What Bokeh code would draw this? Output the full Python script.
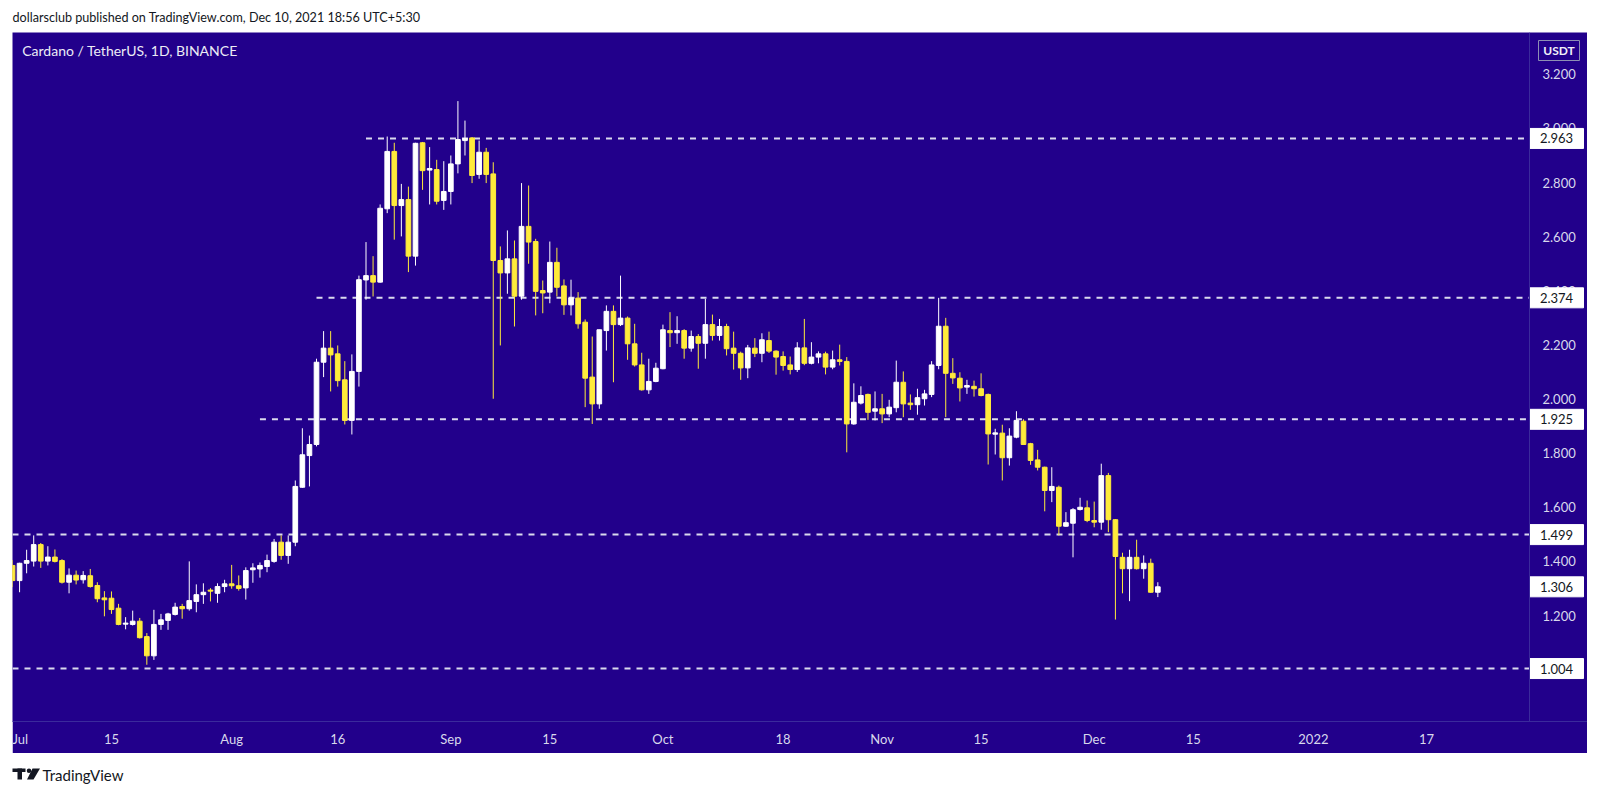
import pandas as pd
from bokeh.plotting import figure
from bokeh.models import ColumnDataSource, FixedTicker, Label, Spacer, Range1d, Span
from bokeh.layouts import column, row
from bokeh.embed import file_html
from bokeh.resources import INLINE
from bokeh.core.properties import value

# ---------------- data ----------------
start_date = "2021-07-01"
end_date = "2021-12-10"
dates = pd.date_range(start_date, end_date, freq="D")

open_ = [1.385, 1.329, 1.393, 1.401, 1.462, 1.401, 1.416, 1.403, 1.323, 1.349,
         1.332, 1.347, 1.311, 1.265, 1.264, 1.227, 1.168, 1.167, 1.179, 1.122,
         1.051, 1.167, 1.182, 1.204, 1.233, 1.225, 1.252, 1.277, 1.294, 1.282,
         1.307, 1.317, 1.310, 1.302, 1.369, 1.372, 1.381, 1.400, 1.471, 1.422,
         1.471, 1.674, 1.791, 1.832, 2.136, 2.188, 2.167, 2.071, 1.921, 2.102,
         2.440, 2.456, 2.432, 2.703, 2.915, 2.715, 2.737, 2.528, 2.947, 2.846,
         2.848, 2.734, 2.767, 2.869, 2.955, 2.965, 2.830, 2.912, 2.832, 2.512,
         2.466, 2.518, 2.380, 2.638, 2.582, 2.401, 2.395, 2.505, 2.418, 2.348,
         2.373, 2.284, 2.081, 1.982, 2.253, 2.324, 2.275, 2.299, 2.204, 2.126,
         2.034, 2.065, 2.112, 2.253, 2.245, 2.253, 2.188, 2.231, 2.206, 2.275,
         2.235, 2.268, 2.188, 2.169, 2.115, 2.188, 2.169, 2.216, 2.177, 2.157,
         2.126, 2.109, 2.189, 2.132, 2.155, 2.167, 2.118, 2.145, 2.139, 1.908,
         1.985, 2.017, 1.955, 1.964, 1.945, 1.968, 2.062, 1.985, 1.979, 2.001,
         2.017, 2.124, 2.269, 2.095, 2.077, 2.044, 2.047, 2.038, 2.017, 1.870,
         1.874, 1.783, 1.859, 1.918, 1.835, 1.775, 1.748, 1.662, 1.674, 1.530,
         1.541, 1.592, 1.598, 1.551, 1.545, 1.717, 1.554, 1.415, 1.373, 1.415,
         1.373, 1.393, 1.286]
high = [1.405, 1.395, 1.443, 1.496, 1.468, 1.456, 1.444, 1.408, 1.374, 1.366,
        1.364, 1.372, 1.323, 1.290, 1.289, 1.243, 1.194, 1.218, 1.191, 1.135,
        1.221, 1.206, 1.210, 1.247, 1.243, 1.400, 1.315, 1.319, 1.301, 1.319,
        1.332, 1.387, 1.348, 1.378, 1.393, 1.396, 1.425, 1.483, 1.496, 1.496,
        1.699, 1.892, 1.865, 2.149, 2.251, 2.251, 2.198, 2.140, 2.165, 2.456,
        2.580, 2.528, 2.719, 2.970, 2.947, 2.795, 2.785, 2.947, 2.950, 2.931,
        2.884, 2.879, 2.900, 3.101, 3.029, 2.968, 2.955, 2.928, 2.875, 2.564,
        2.623, 2.586, 2.798, 2.789, 2.592, 2.438, 2.582, 2.559, 2.442, 2.441,
        2.395, 2.294, 2.231, 2.256, 2.346, 2.346, 2.456, 2.305, 2.278, 2.171,
        2.149, 2.134, 2.275, 2.321, 2.306, 2.258, 2.253, 2.240, 2.370, 2.312,
        2.296, 2.278, 2.249, 2.175, 2.200, 2.225, 2.243, 2.249, 2.180, 2.176,
        2.157, 2.210, 2.296, 2.210, 2.176, 2.175, 2.179, 2.201, 2.155, 2.058,
        2.047, 2.020, 2.028, 2.019, 1.997, 2.142, 2.102, 2.017, 2.038, 2.034,
        2.140, 2.374, 2.300, 2.151, 2.099, 2.071, 2.068, 2.095, 2.020, 1.890,
        1.905, 1.892, 1.955, 1.925, 1.838, 1.812, 1.750, 1.748, 1.680, 1.582,
        1.597, 1.635, 1.625, 1.621, 1.761, 1.727, 1.556, 1.432, 1.443, 1.480,
        1.422, 1.410, 1.323]
low = [1.305, 1.286, 1.356, 1.381, 1.376, 1.385, 1.396, 1.318, 1.282, 1.315,
       1.318, 1.303, 1.249, 1.197, 1.206, 1.164, 1.149, 1.163, 1.115, 1.018,
       1.036, 1.147, 1.147, 1.200, 1.188, 1.218, 1.212, 1.243, 1.252, 1.247,
       1.286, 1.299, 1.292, 1.259, 1.321, 1.340, 1.360, 1.395, 1.406, 1.391,
       1.456, 1.672, 1.677, 1.825, 2.081, 2.028, 2.046, 1.906, 1.869, 2.046,
       2.367, 2.379, 2.430, 2.687, 2.589, 2.601, 2.469, 2.493, 2.773, 2.719,
       2.719, 2.699, 2.719, 2.834, 2.900, 2.798, 2.814, 2.798, 2.001, 2.198,
       2.389, 2.268, 2.367, 2.500, 2.309, 2.317, 2.354, 2.379, 2.311, 2.309,
       2.260, 1.970, 1.908, 1.964, 2.179, 2.062, 2.270, 2.145, 2.120, 2.031,
       2.019, 2.062, 2.110, 2.192, 2.204, 2.149, 2.175, 2.112, 2.149, 2.216,
       2.216, 2.161, 2.109, 2.071, 2.077, 2.155, 2.136, 2.170, 2.090, 2.105,
       2.091, 2.100, 2.125, 2.128, 2.132, 2.091, 2.110, 2.124, 1.803, 1.905,
       1.980, 1.923, 1.921, 1.911, 1.933, 1.951, 1.933, 1.960, 1.942, 1.976,
       2.007, 2.110, 1.933, 2.056, 1.991, 2.019, 2.009, 2.010, 1.758, 1.795,
       1.699, 1.754, 1.855, 1.830, 1.757, 1.736, 1.585, 1.619, 1.496, 1.528,
       1.415, 1.588, 1.545, 1.526, 1.517, 1.508, 1.185, 1.282, 1.253, 1.370,
       1.336, 1.284, 1.268]
close = [1.329, 1.393, 1.403, 1.462, 1.401, 1.416, 1.400, 1.323, 1.349, 1.331,
         1.348, 1.307, 1.262, 1.258, 1.222, 1.167, 1.172, 1.179, 1.118, 1.051,
         1.167, 1.184, 1.206, 1.231, 1.225, 1.255, 1.277, 1.286, 1.290, 1.307,
         1.317, 1.310, 1.300, 1.366, 1.376, 1.385, 1.403, 1.471, 1.422, 1.471,
         1.677, 1.794, 1.832, 2.136, 2.188, 2.163, 2.068, 1.921, 2.102, 2.441,
         2.456, 2.432, 2.705, 2.915, 2.715, 2.737, 2.528, 2.945, 2.844, 2.852,
         2.731, 2.767, 2.869, 2.959, 2.963, 2.826, 2.912, 2.830, 2.512, 2.466,
         2.518, 2.380, 2.638, 2.580, 2.398, 2.392, 2.505, 2.413, 2.348, 2.373,
         2.278, 2.077, 1.982, 2.256, 2.324, 2.275, 2.299, 2.204, 2.126, 2.034,
         2.065, 2.114, 2.256, 2.245, 2.253, 2.188, 2.231, 2.206, 2.275, 2.235,
         2.268, 2.186, 2.169, 2.115, 2.189, 2.169, 2.219, 2.177, 2.155, 2.124,
         2.109, 2.189, 2.132, 2.155, 2.167, 2.118, 2.145, 2.139, 1.908, 1.988,
         2.013, 1.951, 1.964, 1.945, 1.970, 2.062, 1.982, 1.979, 2.005, 2.019,
         2.126, 2.269, 2.095, 2.078, 2.041, 2.050, 2.038, 2.013, 1.871, 1.875,
         1.783, 1.863, 1.921, 1.832, 1.773, 1.748, 1.662, 1.677, 1.530, 1.543,
         1.591, 1.600, 1.551, 1.545, 1.717, 1.554, 1.418, 1.373, 1.415, 1.373,
         1.393, 1.286, 1.306]

level_values = [2.963, 2.374, 1.925, 1.499, 1.004]
level_start_dates = ["2021-08-20", "2021-08-13", "2021-08-05", "2021-07-01", "2021-07-01"]
last_price = 1.306

x_tick_dates = ["2021-07-01", "2021-07-15", "2021-08-01", "2021-08-16", "2021-09-01",
                "2021-09-15", "2021-10-01", "2021-10-18", "2021-11-01", "2021-11-15",
                "2021-12-01", "2021-12-15", "2022-01-01", "2022-01-17"]
x_tick_labels = ["Jul", "15", "Aug", "16", "Sep", "15", "Oct", "18", "Nov", "15",
                 "Dec", "15", "2022", "17"]
y_ticks = [1.0, 1.2, 1.4, 1.6, 1.8, 2.0, 2.2, 2.4, 2.6, 2.8, 3.0, 3.2]

header_text = "dollarsclub published on TradingView.com, Dec 10, 2021 18:56 UTC+5:30"
chart_title = "Cardano / TetherUS, 1D, BINANCE"
currency = "USDT"
brand = "TradingView"

# ---------------- styling / geometry ----------------
BG = "#22008b"
UP = "#ffffff"
DOWN = "#ffeb3b"
AXIS_TXT = "#d8d8ec"
SEP = "#3b2a9c"
FONT = "Lato"

FIG_W = 1575          # whole blue panel
FIG_H = 721
PLOT_W = 1517         # candle area width (price scale to its right)
FRAME_H = 689
PX = 7.07             # pixels per day
Y_MIN, Y_MAX = 0.8083, 3.3545
PU = FRAME_H / (Y_MAX - Y_MIN)   # pixels per price unit
X_SPLIT = PLOT_W / PX
X_END = FIG_W / PX

t0 = dates[0]
day = [(d - t0).days for d in dates]
src = ColumnDataSource(dict(
    x=day, open=open_, high=high, low=low, close=close,
    top=[max(o, c) for o, c in zip(open_, close)],
    bottom=[min(o, c) for o, c in zip(open_, close)],
    color=[UP if c >= o else DOWN for o, c in zip(open_, close)],
))

p = figure(width=FIG_W, height=FIG_H, output_backend="svg", toolbar_location=None,
           x_range=Range1d(0, X_END), y_range=Range1d(Y_MIN, Y_MAX),
           y_axis_location=None, title=None,
           min_border_left=0, min_border_top=0, min_border_right=0,
           min_border_bottom=FIG_H - FRAME_H)
p.background_fill_color = BG
p.border_fill_color = BG
p.outline_line_color = None
p.grid.grid_line_color = None

# level lines (end at the price scale)
lv_src = ColumnDataSource(dict(
    x0=[(pd.Timestamp(s) - t0).days for s in level_start_dates],
    x1=[X_SPLIT] * len(level_values),
    y=level_values))
p.segment(x0="x0", y0="y", x1="x1", y1="y", source=lv_src,
          line_color="#dadaee", line_width=2, line_dash="6 6")

# candles
p.segment(x0="x", y0="low", x1="x", y1="high", source=src, line_color="color", line_width=1)
p.vbar(x="x", top="top", bottom="bottom", width=0.66, source=src,
       fill_color="color", line_color="color", line_width=1)

# price scale separator
p.add_layout(Span(location=X_SPLIT, dimension="height", line_color=SEP, line_width=1))

# price scale tick labels
tick_src = ColumnDataSource(dict(x=[X_SPLIT + 13 / PX] * len(y_ticks), y=y_ticks,
                                 t=[f"{v:.3f}" for v in y_ticks]))
p.text(x="x", y="y", text="t", source=tick_src, text_font=value(FONT),
       text_font_size="13px", text_color=AXIS_TXT, text_baseline="middle", text_align="left")

# price boxes
box_vals = level_values + [last_price]
box_src = ColumnDataSource(dict(
    left=[X_SPLIT] * len(box_vals), right=[X_SPLIT + 54 / PX] * len(box_vals),
    bottom=[v - 10 / PU for v in box_vals], top=[v + 10 / PU for v in box_vals],
    xc=[X_SPLIT + 27 / PX] * len(box_vals), y=box_vals,
    t=[f"{v:.3f}" for v in box_vals]))
p.quad(left="left", right="right", bottom="bottom", top="top", source=box_src,
       fill_color="#ffffff", line_color="#ffffff")
p.text(x="xc", y="y", text="t", source=box_src, text_font=value(FONT),
       text_font_size="13px", text_color="#131722", text_baseline="middle", text_align="center")

# currency box
cy = Y_MAX - 18 / PU
p.quad(left=[X_SPLIT + 9 / PX], right=[X_SPLIT + 50 / PX], bottom=[cy - 10 / PU], top=[cy + 10 / PU],
       fill_color=BG, line_color="#8d8fb4", line_width=1)
p.text(x=[X_SPLIT + 29.5 / PX], y=[cy], text=[currency], text_font=value(FONT),
       text_font_size="12px", text_font_style="bold", text_color="#f0f0f8",
       text_baseline="middle", text_align="center")

# title inside chart
p.add_layout(Label(x=9.7 / PX, y=cy, text=chart_title,
                   text_font=FONT, text_font_size="14px", text_color="#ececf6",
                   text_baseline="middle", text_align="left"))

# time axis
xax = p.xaxis[0]
xax.ticker = FixedTicker(ticks=[(pd.Timestamp(s) - t0).days for s in x_tick_dates])
xax.major_label_overrides = {(pd.Timestamp(s) - t0).days: lab for s, lab in zip(x_tick_dates, x_tick_labels)}
xax.major_tick_in = 0
xax.major_tick_out = 0
xax.minor_tick_line_color = None
xax.major_tick_line_color = None
xax.axis_line_color = SEP
xax.major_label_text_color = AXIS_TXT
xax.major_label_text_font = FONT
xax.major_label_text_font_size = "13px"
xax.major_label_standoff = 9

# ---------------- header / footer ----------------
HDR_H = 32
hdr = figure(width=1600, height=HDR_H, output_backend="svg", toolbar_location=None,
             x_range=Range1d(0, 1600), y_range=Range1d(0, HDR_H),
             x_axis_type=None, y_axis_type=None, min_border=0, title=None)
hdr.outline_line_color = None
hdr.grid.grid_line_color = None
hdr.text(x=[12], y=[HDR_H - 17], text=[header_text], text_font=value(FONT), text_font_size="12.6px",
         text_color="#131722", text_baseline="middle")

FTR_H = 42
ftr = figure(width=1600, height=FTR_H, output_backend="svg", toolbar_location=None,
             x_range=Range1d(0, 1600), y_range=Range1d(0, FTR_H),
             x_axis_type=None, y_axis_type=None, min_border=0, title=None)
ftr.outline_line_color = None
ftr.grid.grid_line_color = None
LOGO = "#131722"
yb = FTR_H - 26   # logo bottom
ftr.quad(left=[12, 17], right=[25, 21.5], bottom=[yb + 7.5, yb], top=[yb + 11, yb + 11],
         fill_color=LOGO, line_color=None)
ftr.scatter(x=[28.5], y=[yb + 8.8], size=4.5, marker="circle", fill_color=LOGO, line_color=None)
ftr.patch(x=[32, 39.5, 33, 26.5], y=[yb + 11, yb + 11, yb, yb], fill_color=LOGO, line_color=None)
ftr.text(x=[42], y=[FTR_H - 21], text=[brand], text_font=value(FONT), text_font_size="15px",
         text_color=LOGO, text_baseline="middle")

layout = column(hdr, row(Spacer(width=12, height=FIG_H), p), ftr)
open("out.html", "w").write(file_html(layout, INLINE))
